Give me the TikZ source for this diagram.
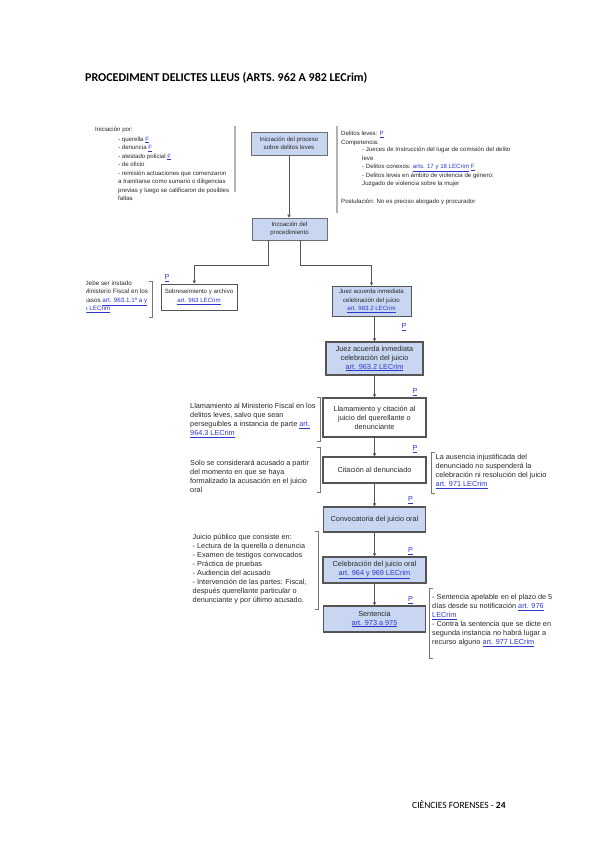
\documentclass[tikz,border=0pt]{standalone}
\usepackage{fontspec}
\setmainfont{Liberation Sans}
\newfontfamily\carlito{Carlito}
\usetikzlibrary{calc,arrows.meta}
\definecolor{boxblue}{RGB}{200,214,242}
\definecolor{linkblue}{RGB}{45,55,205}
\definecolor{txt}{RGB}{40,40,40}
\definecolor{edge}{RGB}{85,85,85}
\newcommand\lk[1]{\textcolor{linkblue}{\underline{#1}}}
\begin{document}
\begin{tikzpicture}[x=1pt,y=-1pt,
  every node/.style={text=txt},
  fsa/.style={font=\fontsize{6.1}{8.4}\selectfont},
  fsb/.style={font=\fontsize{7.3}{9.1}\selectfont},
  topbox/.style={draw=edge!85, line width=0.6pt, fill=boxblue, align=center, inner sep=1pt, fsa},
  lowbox/.style={draw=edge, line width=1.2pt, align=center, inner sep=1pt, fsb},
  arr/.style={draw=edge, line width=0.6pt, -{Triangle[length=3pt,width=3pt]}},
  blk/.style={anchor=north west, align=left, inner sep=0pt},
  brk/.style={draw=edge!80, line width=0.6pt},
  gbar/.style={draw=black!30, line width=1.3pt},
  plabel/.style={inner sep=0pt, fsb, text=linkblue}
]
\fill[white] (0,0) rectangle (599,848);
\useasboundingbox (0,0) rectangle (599,848);

% title and footer
\node[anchor=west, inner sep=0pt, text=black, font=\carlito\bfseries\fontsize{12}{14}\selectfont] (title) at (85,78) {PROCEDIMENT DELICTES LLEUS (ARTS. 962 A 982 LECrim)};
\node[anchor=west, inner sep=0pt, text=black, font=\carlito\fontsize{9.5}{11}\selectfont] (footer) at (412,805) {CIÈNCIES FORENSES - \textbf{24}};

% boxes
\node[topbox, minimum width=76pt, minimum height=23pt] (inic) at (289,143.5) {Iniciación del proceso\\sobre delitos leves};
\node[topbox, minimum width=75pt, minimum height=22pt] (incoa) at (289.5,229) {Incoación del\\procedimiento};
\node[topbox, fill=white, draw=edge, line width=0.8pt, minimum width=76pt, minimum height=26pt] (sobre) at (199,297) {Sobreseimiento y archivo\\\lk{art. 963 LECrim}};
\node[topbox, draw=edge, line width=0.8pt, minimum width=79pt, minimum height=30pt] (juez1) at (371.5,301) {Juez acuerda inmediata\\celebración del juicio\\\lk{art. 963.2 LECrim}};
\node[lowbox, fill=boxblue, minimum width=97pt, minimum height=33pt] (juez2) at (374.5,358.5) {Juez acuerda inmediata\\celebración del juicio\\\lk{art. 963.2 LECrim}};
\node[lowbox, fill=white, minimum width=103pt, minimum height=39pt] (llam) at (374.5,417.5) {Llamamiento y citación al\\juicio del querellante o\\denunciante};
\node[lowbox, fill=white, minimum width=103pt, minimum height=26pt] (cit) at (374.5,470) {Citación al denunciado};
\node[lowbox, fill=boxblue, minimum width=102pt, minimum height=25pt] (conv) at (374.5,519.5) {Convocatoria del juicio oral};
\node[lowbox, fill=boxblue, minimum width=103pt, minimum height=26pt] (celeb) at (374.5,570) {Celebración del juicio oral\\\lk{art. 964 y 969 LECrim}};
\node[lowbox, fill=boxblue, minimum width=102pt, minimum height=26pt] (sent) at (374.5,619) {Sentencia\\\lk{art. 973 a 975}};

% connectors
\draw[arr] (inic.south) -- (inic.south |- incoa.north);
\draw[arr] ($(incoa.south)+(-21.5,0)$) -- ++(0,25) -| ($(sobre.north)+(-4.7,0)$);
\draw[arr] ($(incoa.south)+(10.5,0)$) -- ++(0,25) -| (juez1.north);
\draw[arr] (juez2.north |- juez1.south) -- (juez2.north);
\draw[arr] (juez2.south) -- (llam.north);
\draw[arr] (llam.south) -- (cit.north);
\draw[arr] (cit.south) -- (conv.north);
\draw[arr] (conv.south) -- (celeb.north);
\draw[arr] (celeb.south) -- (sent.north);

% P labels
\node[plabel] (p1) at (167,278) {\underline{P}};
\node[plabel] (p2) at (404,327) {\underline{P}};
\node[plabel] (p3) at (415,392) {\underline{P}};
\node[plabel] (p4) at (415,449) {\underline{P}};
\node[plabel] (p5) at (410.5,500) {\underline{P}};
\node[plabel] (p6) at (410.5,551) {\underline{P}};
\node[plabel] (p7) at (410.5,600) {\underline{P}};

% side texts, top
\node[blk, fsa] (inilbl) at (95,125.8) {\strut Iniciación por:};
\node[blk, fsa, font=\fontsize{6.1}{8.5}\selectfont] (initxt) at (118,135.1) {\strut - querella \lk{F}\\- denuncia \lk{F}\\- atestado policial \lk{F}\\- de oficio\\- remisión actuaciones que comenzaron\\a tramitarse como sumario o diligencias\\previas y luego se calificaron de posibles\\faltas};
\draw[gbar] (235,126) -- (235,192);

\node[blk, fsa] (compA) at (341,129.8) {\strut Delitos leves: \lk{P}\\Competencia:};
\node[blk, fsa] (compB) at (362,145.8) {\strut - Jueces de Instrucción del lugar de comisión del delito\\leve\\- Delitos conexos: \lk{arts. 17 y 18 LECrim} \lk{F}\\- Delitos leves en ámbito de violencia de género:\\Juzgado de violencia sobre la mujer};
\node[blk, fsa] (compC) at (341,197.5) {\strut Postulación: No es preciso abogado y procurador};
\draw[gbar] (337,126) -- (337,213);

% sobreseimiento side text (clipped at left)
\begin{scope}
\clip (86.3,270) rectangle (150,320);
\node[blk, font=\fontsize{6.3}{8.2}\selectfont] (sobtxt) at (84,279.8) {\strut Debe ser instado\\Ministerio Fiscal en los\\casos \lk{art. 963.1.1º a y}\\\lk{b LECrim}};
\end{scope}
\draw[brk] (148.5,281) -- (152,281) -- (152,317) -- (148.5,317);

% lower side texts
\node[blk, fsb] (llamtxt) at (190,401.7) {\strut Llamamiento al Ministerio Fiscal en los\\delitos leves, salvo que sean\\perseguibles a instancia de parte \lk{art.}\\\lk{964.3 LECrim}};
\draw[brk] (317,397) -- (320.5,397) -- (320.5,441) -- (317,441);

\node[blk, fsb] (cittxt) at (190,458.8) {\strut Solo se considerará acusado a partir\\del momento en que se haya\\formalizado la acusación en el juicio\\oral};
\draw[brk] (316.5,447) -- (320,447) -- (320,492) -- (316.5,492);

\node[blk, fsb] (citR) at (435.5,452.5) {\strut La ausencia injustificada del\\denunciado no suspenderá la\\celebración ni resolución del juicio\\\lk{art. 971 LECrim}};
\draw[brk] (434.5,452) -- (431,452) -- (431,493) -- (434.5,493);

\node[blk, fsb] (juitxt) at (192.5,532.5) {\strut Juicio público que consiste en:\\- Lectura de la querella o denuncia\\- Examen de testigos convocados\\- Práctica de pruebas\\- Audiencia del acusado\\- Intervención de las partes: Fiscal,\\después querellante particular o\\denunciante y por último acusado.};
\draw[brk] (314.5,531) -- (318,531) -- (318,609) -- (314.5,609);

\node[blk, fsb] (sentR) at (432,592.8) {\strut - Sentencia apelable en el plazo de 5\\días desde su notificación \lk{art. 976}\\\lk{LECrim}\\- Contra la sentencia que se dicte en\\segunda instancia no habrá lugar a\\recurso alguno \lk{art. 977 LECrim}};
\draw[brk] (432.5,588) -- (429,588) -- (429,658) -- (432.5,658);
\end{tikzpicture}
\end{document}
